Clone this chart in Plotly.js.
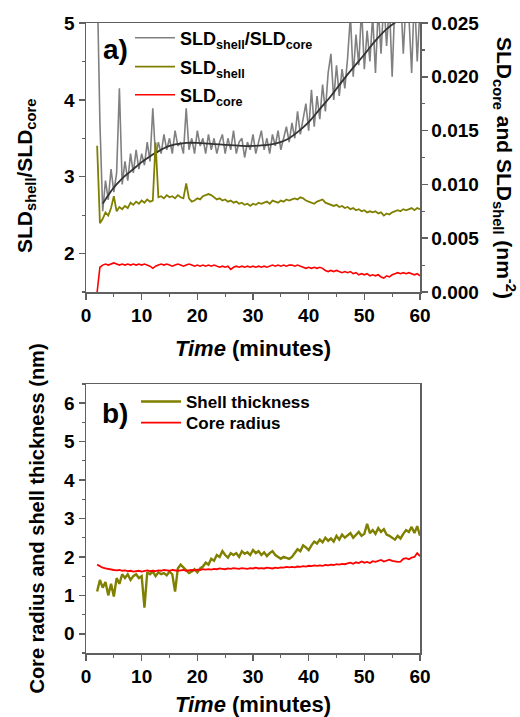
<!DOCTYPE html>
<html>
<head>
<meta charset="utf-8">
<script src="https://cdn.plot.ly/plotly-3.0.1.min.js"></script>
<style>html,body{margin:0;padding:0;background:#fff;}#chart{width:520px;height:717px;}</style>
</head>
<body>
<div id="chart"></div>
<script>
// Time (minutes), shared by all measured series
var time = [2,2.5,3,3.5,4,4.5,5,5.5,6,6.5,
7,7.5,8,8.5,9,9.5,10,10.5,11,11.5,
12,12.5,13,13.5,14,14.5,15,15.5,16,16.5,
17,17.5,18,18.5,19,19.5,20,20.5,21,21.5,
22,22.5,23,23.5,24,24.5,25,25.5,26,26.5,
27,27.5,28,28.5,29,29.5,30,30.5,31,31.5,
32,32.5,33,33.5,34,34.5,35,35.5,36,36.5,
37,37.5,38,38.5,39,39.5,40,40.5,41,41.5,
42,42.5,43,43.5,44,44.5,45,45.5,46,46.5,
47,47.5,48,48.5,49,49.5,50,50.5,51,51.5,
52,52.5,53,53.5,54,54.5,55,55.5,56,56.5,
57,57.5,58,58.5,59,59.5,60];

// Panel a: SLD_shell / SLD_core (left axis)
var sldRatio = [5.6,3.7,2.55,2.95,2.7,3.1,2.8,3.05,4.15,2.9,
3.2,2.95,3.3,3.05,3.35,3.1,3.3,3.15,3.45,3.2,
3.89,3.25,3.45,3.3,3.55,3.35,3.5,3.3,3.6,3.4,
3.45,3.3,3.89,3.35,3.5,3.3,3.6,3.4,3.5,3.3,
3.55,3.35,3.5,3.3,3.45,3.55,3.3,3.5,3.35,3.6,
3.3,3.45,3.5,3.25,3.45,3.35,3.55,3.3,3.45,3.6,
3.35,3.5,3.3,3.55,3.4,3.6,3.35,3.5,3.65,3.45,
3.7,3.5,3.85,3.55,3.75,3.95,3.6,4.13,3.65,4.05,
3.75,4.2,3.85,4.35,4.6,4.0,4.45,4.05,4.4,4.15,
4.55,5.1,4.3,4.85,4.45,5.2,4.4,4.9,4.5,5.1,
4.35,5.2,4.6,5.3,4.7,5.25,4.3,5.3,5.1,5.4,
4.6,5.3,5.1,4.35,5.4,4.5,5.2];

// Panel a: SLD_shell (right axis, nm^-2)
var sldShell = [0.0136,0.0064,0.0068,0.0074,0.0071,0.0078,0.0089,0.0075,0.0079,0.0077,
0.0080,0.0078,0.0083,0.0081,0.0084,0.0082,0.0085,0.0083,0.0086,0.0084,
0.0085,0.0139,0.0088,0.0089,0.0087,0.0090,0.0088,0.0089,0.0087,0.0090,
0.0088,0.0087,0.0101,0.0087,0.0084,0.0085,0.0087,0.0086,0.0089,0.0090,
0.0091,0.0090,0.0088,0.0086,0.0087,0.0085,0.0086,0.0084,0.0085,0.0083,
0.0084,0.0082,0.0083,0.0081,0.0082,0.0080,0.0082,0.0081,0.0083,0.0082,
0.0083,0.0084,0.0082,0.0085,0.0084,0.0083,0.0085,0.0084,0.0086,0.0085,
0.0086,0.0087,0.0086,0.0088,0.0087,0.0085,0.0084,0.0083,0.0082,0.0084,
0.0085,0.0086,0.0083,0.0082,0.0081,0.0080,0.0081,0.0079,0.0080,0.0078,
0.0079,0.0077,0.0078,0.0076,0.0077,0.0075,0.0076,0.0074,0.0075,0.0074,
0.0075,0.0073,0.0074,0.0071,0.0073,0.0072,0.0074,0.0075,0.0076,0.0075,
0.0077,0.0076,0.0077,0.0078,0.0076,0.0078,0.0077];

// Panel a: SLD_core (right axis, nm^-2)
var sldCore = [0.0000,0.0023,0.0025,0.0026,0.0025,0.0026,0.0027,0.0026,0.0025,0.0026,
0.0025,0.0026,0.0025,0.0026,0.0025,0.0026,0.0025,0.0026,0.0025,0.0024,
0.0022,0.0024,0.0025,0.0026,0.0025,0.0026,0.0025,0.0024,0.0025,0.0026,
0.0025,0.0024,0.0025,0.0026,0.0025,0.0024,0.0025,0.0024,0.0025,0.0024,
0.0025,0.0024,0.0025,0.0024,0.0023,0.0024,0.0023,0.0024,0.0021,0.0023,
0.0024,0.0023,0.0024,0.0023,0.0024,0.0023,0.0024,0.0023,0.0024,0.0023,
0.0024,0.0023,0.0024,0.0025,0.0024,0.0025,0.0024,0.0025,0.0024,0.0025,
0.0025,0.0024,0.0025,0.0024,0.0023,0.0022,0.0023,0.0022,0.0023,0.0022,
0.0023,0.0022,0.0020,0.0019,0.0020,0.0019,0.0020,0.0019,0.0018,0.0019,
0.0018,0.0019,0.0017,0.0018,0.0016,0.0017,0.0016,0.0017,0.0015,0.0016,
0.0015,0.0016,0.0014,0.0013,0.0015,0.0014,0.0016,0.0017,0.0018,0.0017,
0.0018,0.0017,0.0018,0.0017,0.0016,0.0017,0.0015];

// Panel a: smooth fit of the ratio
var fitTime = [3,4,5,6,7,8,9,10,11,12,13,14,15,16,17,18,20,22,24,26,28,30,32,34,36,38,40,42,44,46,48,50,52,54,56,58,60];
var fitRatio = [2.65,2.76,2.86,2.94,3.01,3.07,3.13,3.19,3.24,3.29,3.33,3.37,3.40,3.42,3.43,3.44,3.44,3.43,3.42,3.41,3.40,3.40,3.41,3.43,3.48,3.58,3.71,3.88,4.05,4.24,4.42,4.59,4.77,4.92,5.03,5.12,5.16];

// Panel b: shell thickness and core radius (nm)
var shellThickness = [1.10,1.40,1.20,1.35,1.00,1.30,0.97,1.45,1.30,1.55,
1.45,1.55,1.40,1.50,1.55,1.45,1.50,0.68,1.60,1.55,
1.62,1.50,1.60,1.55,1.58,1.52,1.62,1.55,1.10,1.70,
1.80,1.72,1.65,1.58,1.62,1.68,1.60,1.70,1.75,1.85,
1.80,1.95,1.90,2.05,2.00,2.15,2.05,1.98,2.10,2.05,
2.10,2.00,2.15,2.08,2.12,2.05,2.18,2.10,2.15,2.05,
2.12,2.02,2.10,2.15,2.05,2.00,1.95,2.00,1.97,1.95,
2.00,2.10,2.20,2.15,2.30,2.25,2.18,2.30,2.40,2.35,
2.45,2.38,2.50,2.42,2.48,2.40,2.55,2.45,2.58,2.50,
2.55,2.62,2.50,2.58,2.65,2.55,2.60,2.86,2.62,2.70,
2.60,2.75,2.65,2.72,2.58,2.55,2.50,2.45,2.55,2.48,
2.60,2.70,2.65,2.78,2.62,2.80,2.55];

var coreRadius = [1.80,1.75,1.72,1.70,1.68,1.67,1.66,1.65,1.66,1.64,
1.65,1.63,1.64,1.62,1.63,1.64,1.62,1.63,1.65,1.63,
1.64,1.63,1.65,1.64,1.66,1.65,1.64,1.66,1.65,1.64,
1.65,1.66,1.64,1.65,1.66,1.65,1.67,1.66,1.68,1.67,
1.68,1.67,1.69,1.68,1.70,1.69,1.68,1.70,1.69,1.71,
1.70,1.69,1.71,1.70,1.69,1.71,1.70,1.72,1.70,1.71,
1.70,1.72,1.71,1.70,1.72,1.71,1.73,1.72,1.74,1.73,
1.74,1.73,1.75,1.74,1.76,1.75,1.77,1.76,1.78,1.77,
1.78,1.77,1.79,1.78,1.80,1.79,1.81,1.80,1.82,1.81,
1.83,1.85,1.82,1.86,1.84,1.88,1.85,1.87,1.84,1.89,
1.87,1.90,1.92,1.88,1.91,1.93,1.90,1.89,1.87,1.88,
1.95,1.97,1.94,1.98,2.00,2.10,2.02];

var xTicks = [0,10,20,30,40,50,60];

var FONT = 'Liberation Sans, Arial, Helvetica, sans-serif';
var AX = '#606060';
var tickFont = {family: FONT, size: 19, color: '#000', weight: 'bold'};

var traces = [
  {x: time, y: sldRatio, xaxis: 'x', yaxis: 'y', type: 'scatter', mode: 'lines',
   name: 'SLD<sub>shell</sub>/SLD<sub>core</sub>', line: {color: '#808080', width: 1.6}, legend: 'legend'},
  {x: time, y: sldShell, xaxis: 'x', yaxis: 'y2', type: 'scatter', mode: 'lines',
   name: 'SLD<sub>shell</sub>', line: {color: '#808000', width: 1.8}, legend: 'legend2'},
  {x: time, y: sldCore, xaxis: 'x', yaxis: 'y2', type: 'scatter', mode: 'lines',
   name: 'SLD<sub>core</sub>', line: {color: '#ff0000', width: 1.6}, legend: 'legend3'},
  {x: fitTime, y: fitRatio, xaxis: 'x', yaxis: 'y', type: 'scatter', mode: 'lines',
   name: 'fit', showlegend: false, line: {color: '#333333', width: 1.8, shape: 'spline'}},
  {x: time, y: shellThickness, xaxis: 'x2', yaxis: 'y3', type: 'scatter', mode: 'lines',
   name: 'Shell thickness', line: {color: '#808000', width: 2.4}, legend: 'legend4'},
  {x: time, y: coreRadius, xaxis: 'x2', yaxis: 'y3', type: 'scatter', mode: 'lines',
   name: 'Core radius', line: {color: '#ff0000', width: 1.8}, legend: 'legend5'}
];

var xd = [86/520, 420/520];
var ya = [1 - 292/717, 1 - 23/717];
var yb = [1 - 653/717, 1 - 384/717];

function xaxisDef(anchor, domain) {
  return {
    domain: domain, anchor: anchor, range: [0, 60], tickvals: xTicks,
    showline: true, linecolor: AX, linewidth: 1.5, mirror: true,
    ticks: 'outside', ticklen: 6, tickwidth: 1.5, tickcolor: AX,
    minor: {ticks: 'outside', ticklen: 3, tickwidth: 1.2, tickcolor: AX, dtick: 5},
    showgrid: false, zeroline: false, tickfont: tickFont,
    title: {text: '<i>Time</i> (minutes)', font: {family: FONT, size: 22, color: '#000', weight: 'bold'}, standoff: 15}
  };
}

function legendDef(xpx, ypx, size) {
  return {
    x: xpx/520, xanchor: 'left', y: 1 - ypx/717, yanchor: 'middle',
    bgcolor: 'rgba(0,0,0,0)', borderwidth: 0, itemwidth: 40,
    font: {family: FONT, size: size, color: '#000', weight: 'bold'}
  };
}

var layout = {
  width: 520, height: 717,
  margin: {l: 0, r: 0, t: 0, b: 0},
  paper_bgcolor: '#fff', plot_bgcolor: '#fff',
  font: {family: FONT, color: '#000', weight: 'bold'},
  showlegend: true,
  xaxis: xaxisDef('y', xd),
  yaxis: {
    domain: ya, anchor: 'x', range: [1.5, 5], tickvals: [2, 3, 4, 5],
    showline: true, linecolor: AX, linewidth: 1.5,
    ticks: 'outside', ticklen: 6, tickwidth: 1.5, tickcolor: AX,
    minor: {ticks: 'outside', ticklen: 3, tickwidth: 1.2, tickcolor: AX, dtick: 0.5},
    showgrid: false, zeroline: false, tickfont: tickFont
  },
  yaxis2: {
    overlaying: 'y', side: 'right', anchor: 'x', range: [0, 0.025],
    tickvals: [0, 0.005, 0.01, 0.015, 0.02, 0.025], tickformat: '.3f',
    showline: true, linecolor: AX, linewidth: 1.5,
    ticks: 'outside', ticklen: 6, tickwidth: 1.5, tickcolor: AX,
    minor: {ticks: 'outside', ticklen: 3, tickwidth: 1.2, tickcolor: AX, dtick: 0.0025},
    showgrid: false, zeroline: false, tickfont: tickFont
  },
  xaxis2: xaxisDef('y3', xd),
  yaxis3: {
    domain: yb, anchor: 'x2', range: [-0.5, 6.5], tickvals: [0, 1, 2, 3, 4, 5, 6],
    showline: true, linecolor: AX, linewidth: 1.5, mirror: true,
    ticks: 'outside', ticklen: 6, tickwidth: 1.5, tickcolor: AX,
    minor: {ticks: 'outside', ticklen: 3, tickwidth: 1.2, tickcolor: AX, dtick: 0.5},
    showgrid: false, zeroline: false, tickfont: tickFont,
    title: {text: 'Core radius and shell thickness (nm)', font: {family: FONT, size: 20, color: '#000', weight: 'bold'}, standoff: 14}
  },
  legend: legendDef(130, 38, 18),
  legend2: legendDef(130, 67, 18),
  legend3: legendDef(130, 95, 18),
  legend4: legendDef(136, 402, 17),
  legend5: legendDef(136, 423, 17),
  annotations: [
    {xref: 'paper', yref: 'paper', x: 115/520, y: 1 - 50/717, xanchor: 'center', yanchor: 'middle',
     text: 'a)', showarrow: false, font: {family: FONT, size: 28, color: '#000', weight: 'bold'}},
    {xref: 'paper', yref: 'paper', x: 115/520, y: 1 - 413/717, xanchor: 'center', yanchor: 'middle',
     text: 'b)', showarrow: false, font: {family: FONT, size: 28, color: '#000', weight: 'bold'}},
    {xref: 'paper', yref: 'paper', x: 26/520, y: 1 - 176/717, xanchor: 'center', yanchor: 'middle',
     textangle: -90, text: 'SLD<sub>shell</sub>/SLD<sub>core</sub>', showarrow: false,
     font: {family: FONT, size: 21, color: '#000', weight: 'bold'}},
    {xref: 'paper', yref: 'paper', x: 504/520, y: 1 - 168/717, xanchor: 'center', yanchor: 'middle',
     textangle: 90, text: 'SLD<sub>core</sub> and SLD<sub>shell</sub> (nm<sup>-2</sup>)', showarrow: false,
     font: {family: FONT, size: 21, color: '#000', weight: 'bold'}}
  ]
};

Plotly.newPlot('chart', traces, layout, {displayModeBar: false, staticPlot: true});
</script>
</body>
</html>
